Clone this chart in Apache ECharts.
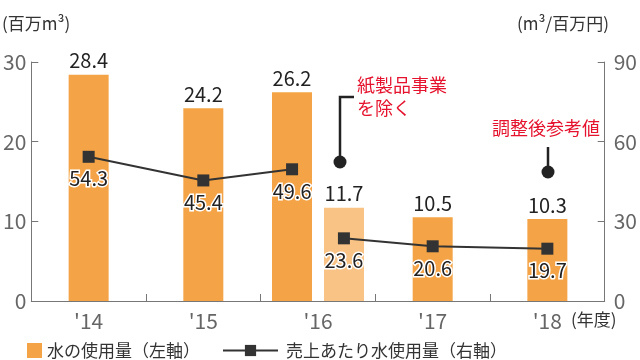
<!DOCTYPE html>
<html>
<head>
<meta charset="utf-8">
<script src="https://cdn.jsdelivr.net/npm/echarts@6/dist/echarts.min.js"></script>
<style>html,body{margin:0;padding:0;background:#fff}#c{width:640px;height:360px}</style>
</head>
<body>
<div id="c"></div>
<script>
// ---- data ----
const categories = ["'14", "'15", "'16", "'17", "'18"];
const waterUse = [28.4, 24.2, 26.2, 10.5, 10.3];        // 百万m3 (reported)
const waterUseExclPaper16 = 11.7;                        // '16 excluding paper business
const intensityReported = [54.3, 45.4, 49.6];            // '14-'16 (m3/百万円)
const intensityAdjusted = [23.6, 20.6, 19.7];            // '16 (excl. paper), '17, '18
const leftTicks = { min: 0, max: 30, interval: 10 };
const rightTicks = { min: 0, max: 90, interval: 30 };

// ---- style / layout ----
const FONT = '"Noto Sans CJK JP", "Noto Sans", sans-serif';
const ORANGE = '#F4A446';
const LIGHT = '#F8C384';
const DARK = '#333333';
const RED = '#E5132D';
const GRID = { left: 31, right: 34, top: 62, bottom: 59 };
const BAR_W = 40, BAR_GAP = 12;
const catW = (640 - GRID.left - GRID.right) / categories.length;
const d = (BAR_W + BAR_GAP) / 2 / catW;   // offset of the '16 pair, in category units
const i16 = categories.indexOf("'16");

const mainBars = waterUse.map((v, i) => i === i16 ? null : v);
const pairA = categories.map((c, i) => i === i16 ? waterUse[i16] : null);
const pairB = categories.map((c, i) => i === i16 ? waterUseExclPaper16 : null);
const lineXs1 = [0, 1, i16 - d];
const lineXs2 = [i16 + d, 3, 4];
const line1 = intensityReported.map((v, i) => [lineXs1[i], v]);
const line2 = intensityAdjusted.map((v, i) => [lineXs2[i], v]);

const barName = '水の使用量（左軸）';
const lineName = '売上あたり水使用量（右軸）';

const barLabel = { show: true, position: 'top', distance: 4, fontFamily: FONT, fontSize: 20, color: '#222' };
const lineLabel = { show: true, position: 'bottom', distance: 6, fontFamily: FONT, fontSize: 20, color: '#222',
  textBorderColor: '#fff', textBorderWidth: 3 };
const hiddenAxisParts = { axisLine: { show: false, onZero: false }, axisTick: { show: false }, axisLabel: { show: false }, splitLine: { show: false } };

const chart = echarts.init(document.getElementById('c'), null, { renderer: 'canvas' });
chart.setOption({
  animation: false,
  backgroundColor: '#fff',
  grid: GRID,
  legend: [
    { data: [barName], left: 27, top: 342, padding: 0, itemWidth: 15, itemHeight: 15, itemGap: 5, icon: 'rect',
      textStyle: { fontFamily: FONT, fontSize: 17, color: '#333' } },
    { data: [lineName], left: 222, top: 342, padding: 0, itemWidth: 55, itemHeight: 14,
      textStyle: { fontFamily: FONT, fontSize: 17, color: '#333', padding: [0, 0, 0, 3] } }
  ],
  xAxis: [
    { type: 'category', data: categories, boundaryGap: true, position: 'bottom',
      axisLine: { onZero: false, lineStyle: { color: '#777', width: 1 } },
      axisTick: { show: true, inside: true, length: 7, lineStyle: { color: '#777' } },
      axisLabel: { fontFamily: FONT, fontSize: 21, color: '#666', margin: 10 } },
    Object.assign({ type: 'category', data: categories, position: 'bottom' }, hiddenAxisParts),
    Object.assign({ type: 'value', min: -0.5, max: categories.length - 0.5, position: 'bottom' }, hiddenAxisParts)
  ],
  yAxis: [
    { type: 'value', min: leftTicks.min, max: leftTicks.max, interval: leftTicks.interval, position: 'left',
      axisLine: { show: true, onZero: false, lineStyle: { color: '#777' } },
      axisTick: { show: true, inside: true, length: 7, lineStyle: { color: '#777' } },
      splitLine: { show: false },
      axisLabel: { fontFamily: FONT, fontSize: 21, color: '#666', margin: 5 } },
    { type: 'value', min: rightTicks.min, max: rightTicks.max, interval: rightTicks.interval, position: 'right',
      axisLine: { show: true, onZero: false, lineStyle: { color: '#777' } },
      axisTick: { show: true, inside: true, length: 7, lineStyle: { color: '#777' } },
      splitLine: { show: false },
      axisLabel: { fontFamily: FONT, fontSize: 21, color: '#666', margin: 9 } }
  ],
  series: [
    { name: barName, type: 'bar', xAxisIndex: 0, yAxisIndex: 0, data: mainBars, barWidth: BAR_W,
      itemStyle: { color: ORANGE }, label: barLabel, z: 2 },
    { name: barName, type: 'bar', xAxisIndex: 1, yAxisIndex: 0, data: pairA, barWidth: BAR_W,
      barGap: (BAR_GAP / BAR_W * 100) + '%', itemStyle: { color: ORANGE }, label: barLabel, z: 2 },
    { name: barName, type: 'bar', xAxisIndex: 1, yAxisIndex: 0, data: pairB, barWidth: BAR_W,
      barGap: (BAR_GAP / BAR_W * 100) + '%', itemStyle: { color: LIGHT }, label: barLabel, z: 2 },
    { name: lineName, type: 'line', xAxisIndex: 2, yAxisIndex: 1, data: line1,
      symbol: 'rect', symbolSize: 12, itemStyle: { color: DARK }, lineStyle: { color: DARK, width: 2 },
      label: lineLabel, z: 5 },
    { name: lineName, type: 'line', xAxisIndex: 2, yAxisIndex: 1, data: line2,
      symbol: 'rect', symbolSize: 12, itemStyle: { color: DARK }, lineStyle: { color: DARK, width: 2 },
      label: lineLabel, z: 5 }
  ],
  graphic: [
    { type: 'text', left: 2, top: 15, style: { text: '(百万m³)', fontFamily: FONT, fontSize: 17, fill: '#333' } },
    { type: 'text', left: 517, top: 15, style: { text: '(m³/百万円)', fontFamily: FONT, fontSize: 17, fill: '#333' } },
    { type: 'text', left: 571, top: 311, style: { text: '(年度)', fontFamily: FONT, fontSize: 17, fill: '#333' } },
    { type: 'polyline', shape: { points: [[354, 97], [340, 97], [340, 162]] }, style: { stroke: '#222', lineWidth: 2.5, fill: null }, z: 10 },
    { type: 'circle', shape: { cx: 340, cy: 162, r: 6.5 }, style: { fill: '#222' }, z: 10 },
    { type: 'text', left: 357, top: 74, style: { text: '紙製品事業\nを除く', fontFamily: FONT, fontSize: 18, lineHeight: 23, fill: RED }, z: 10 },
    { type: 'line', shape: { x1: 548, y1: 147, x2: 548, y2: 172 }, style: { stroke: '#222', lineWidth: 2.5 }, z: 10 },
    { type: 'circle', shape: { cx: 548, cy: 172, r: 6.5 }, style: { fill: '#222' }, z: 10 },
    { type: 'text', left: 492, top: 119, style: { text: '調整後参考値', fontFamily: FONT, fontSize: 18, fill: RED }, z: 10 }
  ]
});
</script>
</body>
</html>
